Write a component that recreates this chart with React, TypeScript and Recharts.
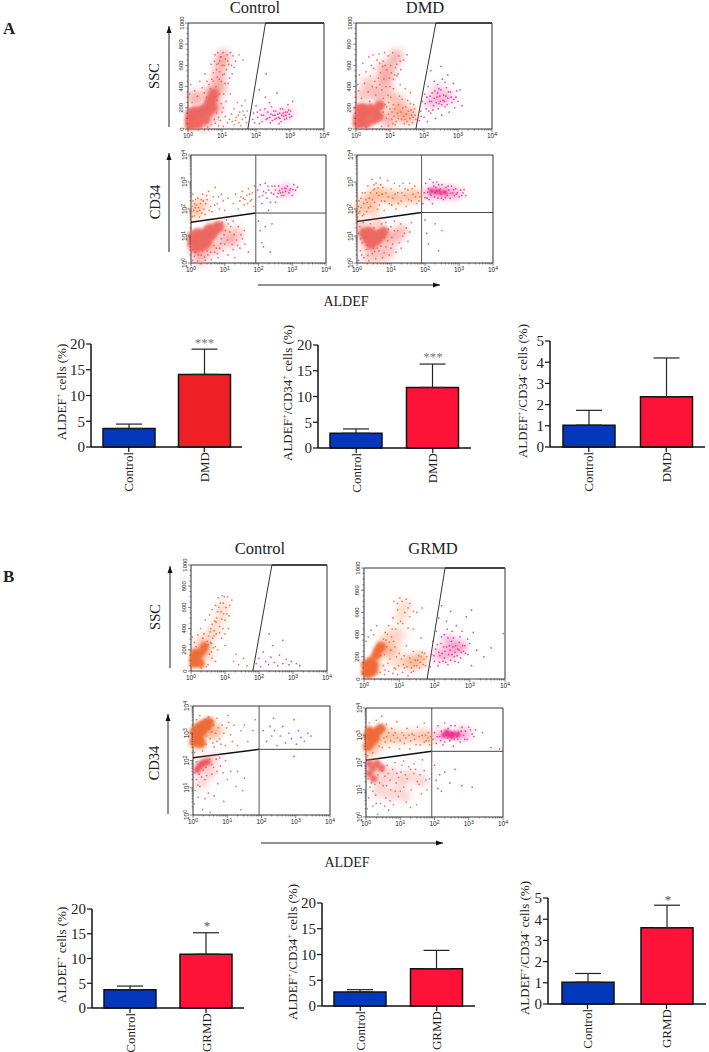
import React from "react";
import { ScatterChart, Scatter, XAxis, YAxis, ReferenceLine, BarChart, Bar, ErrorBar, Cell } from "recharts";

type P = [number, number];
const SERIF = "'Liberation Serif', serif";
const SANS = "'Liberation Sans', sans-serif";

/* ---------- Bar values ---------- */
const barCatsDmd = ["Control", "DMD"];
const barCatsGrmd = ["Control", "GRMD"];
const a1Values = [3.6, 14.1];
const a1Errors = [0.85, 4.9];
const a2Values = [2.85, 11.75];
const a2Errors = [0.85, 4.55];
const a3Values = [1.03, 2.37];
const a3Errors = [0.7, 1.83];
const b1Values = [3.7, 10.87];
const b1Errors = [0.73, 4.33];
const b2Values = [2.72, 7.25];
const b2Errors = [0.45, 3.55];
const b3Values = [1.03, 3.6];
const b3Errors = [0.41, 1.06];

/* ---------- Flow cytometry dots: x in log decades, y in SSC units or log decades ---------- */
const aSscCtrlHaze: P[] = [[.8,350],[.85,430],[.9,500],[.95,580],[1.0,650],[.72,310],[.6,340],[.98,390],[.45,35],[.72,110],[.88,210],[1.05,690],[.3,280],[.15,300]];
const aSscCtrlCore: P[] = [[.06,40],[.06,95],[.15,60],[.2,115],[.3,50],[.33,125],[.42,170],[.5,90],[.5,185],[.6,160],[.62,240],[.7,275],[.73,200],[.22,165],[.08,150],[.76,330]];
const aSscCtrlRed: P[] = [[.04,330],[.08,420],[.12,250],[.2,360],[.28,310],[.35,450],[.42,390],[.5,520],[.55,300],[.62,420],[.68,610],[.7,470],[.75,530],[.78,640],[.8,700],[.84,560],[.88,720],[.92,470],[.95,680],[1.0,600],[1.03,720],[1.07,520],[1.1,660],[1.15,700],[1.18,430],[1.2,610],[1.25,720],[1.32,690],[1.4,640],[1.5,700],[1.62,650],[1.05,330],[1.12,260],[1.0,160],[.95,80],[1.1,120],[1.16,60],[1.25,330],[1.3,520],[.9,30],[.8,55],[1.04,25],[.66,380],[.74,450],[.82,400],[.86,490],[.9,620],[.94,540],[.98,450],[1.02,510],[1.06,600],[1.09,430],[1.13,560],[1.17,640],[.78,300],[.86,270],[.92,330],[.97,240],[1.03,200],[.84,150],[.9,110],[.78,90],[.68,40],[.58,20],[.98,680],[.93,640],[.85,610],[1.22,480],[1.28,600],[1.36,580],[.56,450],[.48,340]];
const aSscCtrlOrange: P[] = [[1.22,90],[1.3,70],[1.35,190],[1.42,110],[1.45,250],[1.5,60],[1.52,160],[1.58,220],[1.6,90],[1.65,130],[1.68,270],[1.72,60],[1.74,170],[1.4,80],[1.55,30],[1.28,140],[1.48,130],[1.62,170],[1.7,110],[1.36,40]];
const aSscCtrlPink: P[] = [[1.9,90],[1.93,150],[1.96,60],[2.0,220],[2.05,110],[2.1,50],[2.12,180],[2.18,70],[2.22,130],[2.28,300],[2.3,90],[2.35,160],[2.4,110],[2.42,60],[2.46,210],[2.5,130],[2.55,90],[2.58,170],[2.62,340],[2.66,110],[2.7,150],[2.74,70],[2.78,190],[2.82,120],[2.86,160],[2.9,100],[2.94,230],[2.98,140],[3.02,170],[3.05,120],[3.08,260],[2.1,370],[2.3,520],[2.6,100],[2.4,250],[2.76,130],[2.88,130],[2.7,100],[2.04,160],[2.16,130],[2.26,190],[2.34,100],[2.44,140],[2.52,170],[2.64,140],[2.72,190],[2.84,90],[2.92,160],[3.0,110],[2.56,130],[2.8,150],[2.96,180],[2.48,80],[2.68,50]];
const aSscCtrlPinkHaze: P[] = [[2.35,130],[2.75,130],[2.95,150]];

const aSscDmdHaze: P[] = [[.2,320],[.5,350],[.7,300],[.85,380],[.9,470],[1.0,550],[1.1,640],[1.2,700],[.35,430],[.75,480],[.8,580],[1.05,300],[1.2,160],[1.4,120],[1.6,110],[1.0,60],[1.3,250],[.85,110]];
const aSscDmdCore: P[] = [[.06,50],[.06,110],[.16,70],[.2,130],[.3,55],[.33,140],[.42,190],[.5,90],[.55,170],[.22,190],[.66,120],[.1,190],[.7,220]];
const aSscDmdRed: P[] = [[.05,420],[.1,510],[.2,620],[.3,540],[.38,680],[.45,600],[.5,700],[.55,450],[.62,650],[.68,710],[.72,530],[.8,640],[.84,720],[.9,560],[.95,690],[1.02,600],[1.08,720],[1.14,510],[1.2,610],[1.26,690],[1.32,560],[1.4,650],[1.5,700],[.4,260],[.6,390],[.7,420],[.8,290],[.9,210],[1.0,400],[1.1,380],[.75,25],[.95,30],[1.15,40],[.3,20],[.25,430],[.42,500],[.52,570],[.58,320],[.66,480],[.76,370],[.82,470],[.88,400],[.94,320],[.98,480],[1.04,530],[1.1,470],[1.16,580],[1.24,520],[1.3,640],[.86,600],[.78,590],[.7,620],[.48,400],[.36,350],[.16,290],[.08,360]];
const aSscDmdOrange: P[] = [[.9,100],[1.0,190],[1.05,90],[1.1,230],[1.18,70],[1.22,150],[1.28,310],[1.34,90],[1.38,200],[1.42,50],[1.48,140],[1.52,270],[1.58,100],[1.62,180],[1.66,60],[1.7,230],[1.74,130],[1.76,90],[1.3,420],[1.45,380],[1.6,340],[1.2,500],[1.02,300],[1.12,120],[1.44,90],[1.56,40],[1.68,160],[.8,160],[.85,230],[.95,140],[1.06,160],[1.14,190],[1.25,230],[1.32,160],[1.4,120],[1.46,210],[1.54,170],[1.6,240],[1.68,110],[1.72,190],[1.24,100],[1.08,50],[.96,250],[1.36,280],[1.5,70],[1.64,130]];
const aSscDmdPink: P[] = [[1.86,80],[1.9,170],[1.95,260],[2.0,110],[2.02,330],[2.06,190],[2.1,70],[2.12,400],[2.16,260],[2.2,150],[2.24,340],[2.28,220],[2.3,450],[2.34,100],[2.38,300],[2.42,190],[2.44,380],[2.48,260],[2.52,130],[2.54,470],[2.58,320],[2.62,210],[2.66,390],[2.7,290],[2.74,160],[2.78,350],[2.82,250],[2.86,430],[2.9,200],[2.94,300],[3.0,260],[3.06,370],[3.12,220],[2.2,550],[2.5,590],[2.7,510],[2.36,250],[2.46,310],[2.56,270],[2.64,310],[2.4,340],[2.52,230],[2.3,290],[1.92,120],[2.04,240],[2.08,300],[2.14,170],[2.18,310],[2.22,260],[2.26,180],[2.32,360],[2.44,240],[2.5,370],[2.6,260],[2.68,230],[2.72,350],[2.8,300],[2.88,280],[2.96,360],[2.4,420],[2.62,440]];
const aSscDmdOrangeHaze: P[] = [[1.1,180],[1.35,160],[1.6,170]];
const aSscDmdPinkHaze: P[] = [[2.2,250],[2.45,280],[2.7,300],[2.4,360]];

const aCdCtrlHaze: P[] = [[.1,.55],[.3,.35],[.55,.5],[.8,.65],[1.05,.95],[1.2,.8],[1.35,1.1],[.25,.15],[.9,1.3],[.6,1.25]];
const aCdCtrlCore: P[] = [[.05,.75],[.05,1.0],[.15,.85],[.2,1.1],[.3,.65],[.32,.95],[.42,1.1],[.5,.85],[.55,1.25],[.62,1.05],[.72,1.25],[.82,1.35],[.15,.55],[.42,.7]];
const aCdCtrlRed: P[] = [[.05,.1],[.1,.25],[.2,.08],[.3,.3],[.42,.1],[.5,.3],[.6,.12],[.7,.4],[.8,.2],[.95,.45],[1.1,.3],[1.25,.5],[1.3,.2],[1.45,.55],[1.52,.9],[1.58,1.2],[1.4,1.35],[1.6,.7],[1.7,.4],[1.1,1.45],[1.25,1.55],[1.0,.7],[.85,.55],[1.15,1.15],[1.48,1.05],[1.35,.85],[.68,.65],[.9,.9],[1.02,1.2],[.35,.45],[.12,.4],[.22,.3],[.04,.5],[.48,.45],[.58,.4],[.75,.55],[.88,.72],[.98,1.05],[1.08,.85],[1.18,1.35],[1.28,1.05],[1.38,.65],[1.05,1.6],[.92,1.5],[1.22,.68],[.4,.22],[.78,.35]];
const aCdCtrlOrange: P[] = [[.02,1.9],[.03,2.1],[.06,2.3],[.1,1.75],[.12,2.05],[.18,1.9],[.2,2.4],[.25,1.7],[.28,2.2],[.34,2.55],[.38,2.0],[.42,1.8],[.48,2.35],[.52,2.65],[.58,2.1],[.62,1.9],[.66,2.45],[.72,2.8],[.78,2.2],[.84,2.0],[.9,2.55],[.95,2.3],[1.0,1.95],[1.1,2.4],[1.25,2.2],[1.32,2.55],[1.4,2.0],[1.45,2.3],[1.52,2.65],[1.58,2.15],[1.65,2.5],[1.7,2.75],[1.76,2.3],[1.82,2.6],[1.86,2.1],[1.88,2.85],[.08,1.95],[.15,2.15],[.05,2.55],[.3,2.35],[1.6,2.35],[1.74,2.55],[.04,1.72],[.14,2.35],[.22,2.05],[.32,1.85],[.44,2.2],[.54,1.95],[.7,2.15],[.82,2.45],[.46,2.5],[.26,1.95],[.1,2.2],[.36,2.3],[1.48,2.45],[1.68,2.2],[1.8,2.35],[1.55,2.4]];
const aCdCtrlPink: P[] = [[1.98,2.7],[2.02,2.45],[2.05,2.9],[2.1,2.2],[2.15,2.65],[2.2,2.95],[2.25,2.4],[2.3,2.7],[2.35,2.25],[2.4,2.85],[2.45,2.55],[2.5,2.7],[2.55,2.45],[2.6,2.85],[2.65,2.6],[2.7,2.75],[2.75,2.5],[2.8,2.65],[2.85,2.85],[2.9,2.6],[2.95,2.75],[3.0,2.5],[3.05,2.9],[3.1,2.7],[3.15,2.8],[2.62,2.68],[2.72,2.62],[2.82,2.75],[2.5,2.25],[2.3,1.95],[2.0,1.55],[2.05,1.2],[2.1,.75],[2.15,.6],[2.2,1.35],[2.4,1.45],[2.35,.4],[2.12,2.5],[2.22,2.6],[2.38,2.6],[2.48,2.85],[2.58,2.58],[2.68,2.5],[2.78,2.78],[2.92,2.7],[3.02,2.72],[2.28,2.85]];
const aCdCtrlOrangeHaze: P[] = [[.15,2.05],[.35,2.2],[.15,1.85]];
const aCdCtrlPinkHaze: P[] = [[2.7,2.68],[2.9,2.7]];

const aCdDmdHaze: P[] = [[.25,.75],[.5,.6],[.75,.8],[.95,1.0],[1.15,.95],[1.3,1.2],[.35,.25],[.7,.25],[.95,.45],[.15,1.35],[.6,1.4]];
const aCdDmdCore: P[] = [[.3,.9],[.42,.7],[.5,1.05],[.58,.85],[.68,1.0],[.78,1.15],[.2,1.1],[.36,1.15]];
const aCdDmdRed: P[] = [[.05,.1],[.1,.45],[.15,.75],[.2,.2],[.28,.5],[.35,.08],[.45,.35],[.55,.15],[.65,.45],[.75,.2],[.85,.6],[.95,.3],[1.05,.7],[1.15,.4],[1.25,.75],[1.35,1.0],[1.45,1.3],[1.5,.8],[1.6,1.5],[1.1,1.55],[.85,1.5],[1.0,1.35],[.05,1.1],[.08,1.35],[.4,1.45],[.6,.55],[.8,.95],[1.02,.95],[1.2,1.2],[.25,.95],[.62,1.2],[.48,.55],[1.55,1.15],[1.28,1.45],[.14,.3],[.32,.28],[.52,.42],[.7,.62],[.9,.82],[1.1,1.2],[1.4,1.1],[.18,1.5],[.92,1.25],[.72,1.45],[.5,1.3],[.3,.65],[.1,.9],[1.3,.55],[.8,.38],[1.0,.55]];
const aCdDmdOrange: P[] = [[.02,1.7],[.04,2.1],[.08,1.9],[.12,2.4],[.16,1.75],[.2,2.2],[.24,2.6],[.28,1.9],[.32,2.85],[.36,2.4],[.4,2.1],[.44,3.1],[.48,2.7],[.52,2.25],[.56,2.95],[.6,2.0],[.64,2.5],[.68,3.15],[.72,2.3],[.76,2.8],[.8,1.95],[.85,2.6],[.9,3.05],[.95,2.2],[1.0,2.75],[1.05,2.4],[1.1,2.95],[1.15,2.0],[1.2,2.6],[1.25,2.85],[1.3,2.3],[1.35,2.95],[1.4,2.5],[1.45,2.1],[1.5,2.7],[1.55,2.95],[1.6,2.3],[1.65,2.55],[1.7,2.85],[1.75,2.2],[1.8,2.6],[1.85,2.45],[.12,2.05],[.2,1.8],[.05,1.85],[.4,2.6],[.52,2.75],[.3,2.25],[.06,2.3],[.16,2.6],[.26,2.35],[.34,2.05],[.46,2.35],[.58,2.6],[.66,2.15],[.74,2.55],[.82,2.3],[.92,2.45],[1.02,2.15],[1.12,2.55],[1.22,2.2],[1.32,2.6],[1.42,2.75],[1.52,2.35],[1.62,2.75],[1.72,2.45],[1.82,2.3],[.5,2.9],[.7,2.9],[.62,2.78]];
const aCdDmdPink: P[] = [[1.94,2.2],[1.98,2.6],[2.02,2.95],[2.06,2.4],[2.1,2.75],[2.14,3.1],[2.18,2.5],[2.22,2.2],[2.26,2.85],[2.3,2.6],[2.34,3.0],[2.38,2.4],[2.42,2.7],[2.46,2.55],[2.5,2.9],[2.54,2.35],[2.58,2.65],[2.62,2.8],[2.66,2.5],[2.7,2.7],[2.74,2.4],[2.78,2.85],[2.82,2.6],[2.86,2.5],[2.9,2.75],[2.95,2.6],[3.0,2.45],[3.05,2.7],[3.12,2.6],[3.2,2.5],[2.0,1.6],[2.05,1.1],[2.1,.7],[2.3,1.45],[2.4,.45],[2.5,1.2],[2.2,2.65],[2.35,2.68],[2.45,2.75],[2.28,2.45],[2.15,2.55],[2.55,2.62],[2.0,2.42],[2.08,2.62],[2.12,2.35],[2.24,2.98],[2.32,2.8],[2.4,2.9],[2.48,2.4],[2.6,2.42],[2.68,2.85],[2.76,2.58],[2.84,2.72],[2.92,2.55],[3.08,2.5],[3.15,2.72]];
const aCdDmdOrangeHaze: P[] = [[.1,2.0],[.3,2.3],[.5,2.5],[.7,2.55],[.95,2.45],[1.2,2.4],[1.5,2.45],[1.75,2.5],[.45,2.0]];
const aCdDmdPinkHaze: P[] = [[2.15,2.6],[2.4,2.62],[2.65,2.62],[2.9,2.58]];
const aCdDmdPinkCore: P[] = [[2.18,2.68],[2.32,2.65],[2.45,2.62],[2.6,2.6]];

const bSscCtrlHaze: P[] = [[.55,320],[.7,400],[.85,500],[.95,600],[.3,270],[.2,90],[.5,150]];
const bSscCtrlCore: P[] = [[.08,70],[.08,125],[.16,90],[.22,145],[.28,70],[.32,185],[.12,170],[.4,230]];
const bSscCtrlRed: P[] = [[.04,320],[.1,270],[.2,340],[.28,400],[.35,310],[.42,480],[.48,280],[.55,530],[.58,400],[.62,580],[.68,330],[.5,60],[.62,120],[.72,90],[.6,260],[.38,350],[.15,230],[.74,460],[.3,30],[.45,40]];
const bSscCtrlOrange: P[] = [[.45,210],[.52,330],[.58,270],[.62,440],[.68,380],[.72,620],[.76,500],[.8,690],[.84,420],[.88,560],[.92,710],[.95,640],[1.0,480],[1.03,600],[1.08,700],[1.12,520],[.78,200],[.9,310],[1.0,240],[1.1,400],[1.2,670],[.72,230],[.6,180],[.42,250],[.82,600],[.96,540],[1.25,90],[1.4,60],[1.55,120],[1.65,50],[1.32,160],[.5,250],[.56,370],[.64,310],[.7,470],[.74,350],[.78,560],[.84,360],[.86,640],[.9,490],[.94,400],[.98,700],[1.05,540],[1.14,620],[1.0,350],[.66,220],[.54,160]];
const bSscCtrlPink: P[] = [[1.92,70],[2.0,120],[2.05,40],[2.12,180],[2.2,90],[2.28,60],[2.35,130],[2.4,240],[2.45,80],[2.55,50],[2.6,150],[2.7,70],[2.8,110],[2.88,60],[2.95,90],[3.1,70],[3.2,50],[2.3,350],[2.7,290]];
const bSscCtrlOrangeHaze: P[] = [[.25,170],[.4,230]];

const bSscGrmdHaze: P[] = [[.4,120],[.55,330],[.75,390],[.9,290],[1.05,560],[1.15,660],[.95,150],[1.25,140],[1.45,130],[1.6,170],[.7,240],[1.0,400]];
const bSscGrmdCore: P[] = [[.05,60],[.05,130],[.14,100],[.2,160],[.14,50],[.28,125],[.34,210],[.4,255],[.48,290],[.26,70]];
const bSscGrmdRed: P[] = [[.06,340],[.12,380],[.2,440],[.28,400],[.36,480],[.46,60],[.58,40],[.7,70],[.82,50],[.95,40],[1.1,60],[1.25,30],[1.4,70],[1.5,600],[1.3,680],[1.2,720],[1.02,730],[.85,700],[1.65,640],[1.4,450],[1.62,370],[.6,80],[.9,90],[1.15,100],[1.34,60],[1.1,500],[1.25,640],[.95,680],[1.4,610]];
const bSscGrmdOrange: P[] = [[.48,210],[.55,120],[.6,420],[.65,290],[.7,480],[.74,180],[.78,380],[.82,550],[.86,100],[.9,450],[.95,620],[1.0,230],[1.04,520],[1.08,700],[1.12,130],[1.16,600],[1.2,300],[1.25,460],[1.3,190],[1.35,100],[1.4,250],[1.45,170],[1.5,120],[1.55,210],[1.6,150],[1.65,240],[1.7,180],[1.74,120],[1.78,200],[.88,290],[.72,330],[.55,360],[1.3,560],[1.72,230],[1.62,200],[.58,220],[.68,140],[.76,260],[.84,340],[.92,200],[.98,120],[1.06,180],[1.14,210],[1.22,110],[1.32,150],[1.42,120],[1.52,170],[1.58,100],[1.68,130],[.62,350],[.8,450],[.66,400],[.96,500]];
const bSscGrmdPink: P[] = [[1.88,110],[1.92,220],[1.95,340],[2.0,160],[2.03,270],[2.05,430],[2.1,120],[2.12,550],[2.15,210],[2.18,320],[2.2,660],[2.24,160],[2.28,400],[2.3,250],[2.34,520],[2.38,130],[2.42,300],[2.46,610],[2.5,220],[2.54,370],[2.58,160],[2.62,480],[2.66,270],[2.7,330],[2.74,190],[2.78,430],[2.82,250],[2.86,300],[2.9,560],[2.95,220],[3.0,320],[3.05,620],[3.1,420],[3.2,260],[3.4,200],[3.6,280],[3.95,410],[3.05,120],[2.28,190],[2.4,220],[2.52,290],[2.34,290],[2.6,300],[2.46,170],[2.7,260],[2.22,230],[2.58,240],[1.98,210],[2.08,310],[2.14,150],[2.2,380],[2.26,290],[2.32,150],[2.38,370],[2.44,260],[2.48,340],[2.56,200],[2.64,210],[2.72,380],[2.8,300],[2.88,230],[2.94,360],[2.12,240],[2.36,450],[2.5,430],[2.68,150],[2.76,240]];
const bSscGrmdOrangeHaze: P[] = [[.55,280],[.7,250],[1.3,170],[1.6,190]];
const bSscGrmdPinkHaze: P[] = [[2.15,220],[2.4,230],[2.6,280],[2.75,290],[2.4,340]];

const bCdCtrlHaze: P[] = [[.2,1.75],[.35,1.9],[.5,1.55],[.25,1.2],[.6,2.05]];
const bCdCtrlCore: P[] = [[.06,2.7],[.06,3.05],[.14,2.85],[.16,3.2],[.24,3.05],[.3,3.3],[.38,3.25],[.46,3.4],[.22,2.65]];
const bCdCtrlRedCore: P[] = [[.12,1.65],[.2,1.8],[.3,1.9],[.42,1.95]];
const bCdCtrlRed: P[] = [[.04,.4],[.06,.9],[.1,1.3],[.15,.65],[.2,1.05],[.28,.2],[.35,1.3],[.45,.8],[.55,1.5],[.62,.7],[.72,1.15],[.8,1.8],[.9,.5],[1.0,1.3],[1.1,1.6],[1.25,1.05],[1.3,1.6],[1.45,.9],[1.5,1.35],[.78,2.1],[.95,2.0],[1.4,.2],[.5,.1],[.68,2.05],[.35,.6],[.1,1.95],[.18,1.5],[.4,1.45],[.6,1.75],[.05,1.55],[.12,1.75],[.22,1.9],[.3,1.65],[.38,1.75],[.48,2.05],[.55,1.85],[.25,1.4],[.14,1.1],[.7,1.6],[.88,1.55]];
const bCdCtrlOrange: P[] = [[.05,2.3],[.1,3.5],[.2,3.65],[.28,2.35],[.38,2.6],[.45,3.6],[.55,3.05],[.62,2.5],[.7,3.55],[.78,2.8],[.85,3.3],[.95,2.55],[1.02,3.65],[1.1,2.95],[1.2,3.3],[1.3,2.55],[1.4,3.1],[1.5,3.3],[1.6,2.7],[1.75,3.1],[1.82,3.5],[.6,3.3],[.9,3.0],[1.05,3.4],[.4,2.9],[.5,2.8],[.58,2.65],[.66,3.0],[.74,3.2],[.82,2.6],[.48,3.15],[.56,3.45],[.35,3.5],[.28,2.6],[.7,2.7],[.98,3.2],[1.15,2.7]];
const bCdCtrlPink: P[] = [[2.05,3.1],[2.15,2.7],[2.25,3.25],[2.3,2.9],[2.38,3.1],[2.45,2.55],[2.55,2.9],[2.62,3.25],[2.7,2.65],[2.8,3.0],[2.88,2.8],[2.95,3.5],[3.02,2.6],[3.08,3.1],[3.15,2.85],[3.25,2.7],[3.35,3.0],[2.95,2.15],[2.35,3.55],[3.45,2.9]];
const bCdCtrlOrangeHaze: P[] = [[.15,2.95],[.3,3.1],[.45,3.2],[.1,2.6],[.55,3.0],[.7,3.1]];

const bCdGrmdHaze: P[] = [[.3,1.7],[.5,1.35],[.75,1.6],[1.0,1.3],[1.25,1.5],[.4,.95],[.75,.85],[1.1,.8],[1.6,1.35]];
const bCdGrmdCore: P[] = [[.06,2.6],[.06,2.95],[.16,2.75],[.18,3.05],[.28,2.9],[.34,3.15],[.44,3.25],[.1,3.15]];
const bCdGrmdRedCore: P[] = [[.1,1.6],[.1,1.95],[.2,1.8],[.32,1.95],[.22,1.4],[.45,1.8]];
const bCdGrmdRed: P[] = [[.04,.3],[.08,.7],[.12,1.1],[.2,.4],[.28,.8],[.34,.1],[.42,.5],[.5,1.15],[.58,.7],[.66,.25],[.72,1.0],[.8,.45],[.88,1.25],[.95,.75],[1.02,1.65],[1.1,1.1],[1.18,.55],[1.25,1.85],[1.32,1.0],[1.4,1.6],[1.48,.45],[1.55,1.2],[1.62,.85],[1.7,1.7],[1.78,1.0],[1.85,1.4],[.62,1.9],[.85,2.0],[1.1,2.05],[1.4,1.95],[1.65,2.1],[.35,1.55],[.55,1.5],[.7,1.35],[.95,1.45],[1.2,1.4],[1.5,1.3],[.2,.95],[.06,1.4],[.16,1.25],[.26,1.2],[.4,1.25],[.48,1.7],[.6,1.15],[.78,1.75],[.9,1.6],[1.05,1.9],[1.15,1.55],[1.3,1.75],[1.45,1.75],[1.58,1.55],[1.75,1.35],[.65,1.6],[.85,.95],[1.0,.95],[1.3,.35],[.55,.4],[.3,.5],[.7,.6]];
const bCdGrmdOrange: P[] = [[.05,2.25],[.1,3.45],[.2,2.35],[.3,3.55],[.38,2.6],[.46,3.7],[.52,2.9],[.6,3.4],[.68,2.55],[.75,3.25],[.82,2.75],[.9,3.5],[.98,2.5],[1.05,3.1],[1.12,2.7],[1.2,3.25],[1.28,2.5],[1.35,3.05],[1.42,2.85],[1.5,3.3],[1.58,2.65],[1.64,3.0],[1.7,3.45],[1.76,2.8],[1.82,3.1],[1.86,2.65],[1.88,2.95],[.6,2.95],[.85,3.1],[1.3,2.8],[1.7,2.75],[1.8,2.9],[.48,2.55],[.56,2.75],[.66,3.1],[.72,2.8],[.8,3.0],[.92,2.9],[1.0,2.8],[1.1,3.0],[1.16,2.9],[1.25,3.0],[1.4,3.0],[1.46,2.65],[1.55,2.95],[1.74,3.0],[1.84,2.8]];
const bCdGrmdPink: P[] = [[1.96,2.85],[2.0,3.1],[2.05,2.7],[2.1,3.35],[2.15,2.95],[2.2,3.15],[2.25,2.65],[2.3,3.45],[2.35,3.0],[2.4,3.25],[2.45,2.8],[2.5,3.1],[2.55,2.6],[2.6,3.35],[2.65,2.95],[2.7,3.1],[2.75,2.75],[2.8,3.3],[2.85,3.0],[2.9,3.15],[2.95,2.85],[3.0,3.3],[3.1,3.05],[3.2,3.2],[3.4,3.1],[3.65,2.55],[3.9,2.5],[2.0,1.9],[2.05,1.35],[2.1,1.05],[2.2,.95],[2.3,1.65],[2.45,1.25],[2.6,1.75],[2.8,1.15],[3.1,1.1],[2.15,1.55],[2.08,2.95],[2.18,2.8],[2.3,2.75],[2.38,2.9],[2.48,3.35],[2.58,2.85],[2.68,2.85],[2.78,3.15],[2.88,2.85],[3.05,3.2],[3.15,2.95]];
const bCdGrmdOrangeHaze: P[] = [[.1,2.4],[.3,2.6],[.55,2.9],[.75,3.0],[1.0,2.9],[1.3,2.95],[1.6,2.95],[1.8,2.95]];
const bCdGrmdPinkHaze: P[] = [[2.15,3.0],[2.75,3.05],[2.9,3.05]];
const bCdGrmdPinkCore: P[] = [[2.28,3.0],[2.42,3.02],[2.55,3.05],[2.68,3.02],[2.36,3.12],[2.5,2.95]];

/* ---------- Drawing helpers ---------- */
const minorSteps = [0, .3, .48, .6, .7, .78, .85, .9, .95];
const logTicks = [0, 1, 2, 3].flatMap((d) => minorSteps.map((m) => d + m)).concat([4]);
const sscTicks = Array.from({ length: 21 }, (_, i) => i * 50);
const HAZE = "#F08078", CORE = "#EC675F", RED = "#EE5060", ORANGE = "#EF6128", PINK = "#EC2488";

const pts = (a: P[]) => a.map(([x, y]) => ({ x, y }));
const dot = (r: number, fill: string, opacity: number, blur: number) => (p: any) =>
  <circle cx={p.cx} cy={p.cy} r={r} fill={fill} opacity={opacity} style={blur ? { filter: `blur(${blur}px)` } : undefined} />;

const LogLabel = ({ x, y, n, rotate }: any) => (
  <text x={x} y={y} fontSize={6.5} fontFamily={SANS} fill="#222" textAnchor="middle"
    transform={rotate ? `rotate(-90 ${x} ${y})` : undefined}>
    10<tspan fontSize={5} dy={-2}>{n}</tspan>
  </text>
);

const XTick = ({ x, y, payload }: any) => {
  const major = Number.isInteger(payload.value);
  return (
    <g>
      <line x1={x} x2={x} y1={y} y2={y + (major ? 3 : 1.5)} stroke="#333" strokeWidth={0.6} />
      {major && <LogLabel x={x} y={y + 9} n={payload.value} />}
    </g>
  );
};
const YTick = ({ x, y, payload, ssc }: any) => {
  const major = ssc ? payload.value % 200 === 0 : Number.isInteger(payload.value);
  return (
    <g>
      <line x1={x - (major ? 3 : 1.5)} x2={x} y1={y} y2={y} stroke="#333" strokeWidth={0.6} />
      {major && (ssc
        ? <text x={x - 4.5} y={y} fontSize={6} fontFamily={SANS} fill="#222" textAnchor="middle" transform={`rotate(-90 ${x - 4.5} ${y})`}>{payload.value}</text>
        : <LogLabel x={x - 4.5} y={y} n={payload.value} rotate />)}
    </g>
  );
};

type Layer = { data: P[]; r: number; fill: string; o: number; blur: number };
const Flow = ({ l, r, t, b, ssc, gate, layers }: any) => {
  const ml = 18, mb = 16, mr = 10, mt = 12;
  const yTop = ssc ? 1000 : 4;
  return (
    <div style={{ position: "absolute", left: l - ml, top: t - mt }}>
      <ScatterChart width={r - l + ml + mr} height={b - t + mt + mb} margin={{ left: 0, top: mt, right: mr, bottom: 0 }}>
        <XAxis type="number" dataKey="x" domain={[0, 4]} ticks={logTicks} interval={0} height={mb} tick={<XTick />} tickLine={false} axisLine={false} tickSize={0} tickMargin={0} />
        <YAxis type="number" dataKey="y" domain={[0, yTop]} ticks={ssc ? sscTicks : logTicks} interval={0} width={ml} tick={<YTick ssc={ssc} />} tickLine={false} axisLine={false} tickSize={0} tickMargin={0} />
        {layers.map((ly: Layer, i: number) => (
          <Scatter key={i} data={pts(ly.data)} shape={dot(ly.r, ly.fill, ly.o, ly.blur)} isAnimationActive={false} />
        ))}
        <ReferenceLine x={0} stroke="#333" strokeWidth={1} ifOverflow="visible" />
        <ReferenceLine x={4} stroke="#333" strokeWidth={1} ifOverflow="visible" />
        <ReferenceLine y={0} stroke="#333" strokeWidth={1} ifOverflow="visible" />
        <ReferenceLine y={yTop} stroke="#333" strokeWidth={1} ifOverflow="visible" />
        {ssc ? (
          <>
            <ReferenceLine segment={[{ x: gate[0], y: 0 }, { x: gate[1], y: 1000 }]} stroke="#333" strokeWidth={1} ifOverflow="visible" />
            <ReferenceLine segment={[{ x: gate[1], y: 1000 }, { x: 4, y: 1000 }]} stroke="#444" strokeWidth={2} ifOverflow="visible" />
          </>
        ) : (
          <>
            <ReferenceLine segment={[{ x: 0, y: gate[0] }, { x: gate[2], y: gate[1] }]} stroke="#111" strokeWidth={1.5} ifOverflow="visible" />
            <ReferenceLine segment={[{ x: gate[2], y: gate[1] }, { x: 4, y: gate[1] }]} stroke="#444" strokeWidth={1} ifOverflow="visible" />
            <ReferenceLine x={gate[2]} stroke="#555" strokeWidth={1} ifOverflow="visible" />
          </>
        )}
      </ScatterChart>
    </div>
  );
};

const haze = (data: P[], fill: string, o = 0.42): Layer => ({ data, r: 7, fill, o, blur: 3 });
const blob = (data: P[], fill: string, r = 5.5): Layer => ({ data, r, fill, o: 0.95, blur: 1.8 });
const dots = (data: P[], fill: string): Layer => ({ data, r: 0.85, fill, o: 0.85, blur: 0 });
const PALE_OR = "#F59A70", PALE_PK = "#F080B8", ORC = "#EE6A35";

const RotTick = ({ x, y, payload }: any) => (
  <text x={x} y={y - 2} transform={`rotate(-90 ${x} ${y - 2})`} dy={4.5} textAnchor="end" fontSize={13} fontFamily={SERIF} fill="#222">{payload.value}</text>
);

const BarPanel = ({ x0, x1, y0, y1, cats, values, errors, max, ticks, red }: any) => {
  const ml = 30, mt = 8, mb = 55;
  const data = cats.map((c: string, i: number) => ({ c, v: values[i], e: [0, errors[i]] }));
  return (
    <div style={{ position: "absolute", left: x0 - ml, top: y1 - mt }}>
      <BarChart width={x1 - x0 + ml} height={y0 - y1 + mt + mb} data={data} margin={{ left: 0, top: mt, right: 0, bottom: 0 }} barSize={52}>
        <XAxis dataKey="c" height={mb} interval={0} tick={<RotTick />} tickSize={5} tickLine={{ stroke: "#111", strokeWidth: 1.2 }} axisLine={{ stroke: "#111", strokeWidth: 1.5 }} />
        <YAxis type="number" domain={[0, max]} ticks={ticks} interval={0} width={ml} tickSize={5} tickMargin={1}
          tick={{ fontSize: 15, fontFamily: SERIF, fill: "#222" }} tickLine={{ stroke: "#111", strokeWidth: 1.2 }} axisLine={{ stroke: "#111", strokeWidth: 1.5 }} />
        <Bar dataKey="v" stroke="#111" strokeWidth={1.5} isAnimationActive={false}>
          <Cell fill="#0438BC" />
          <Cell fill={red} />
          <ErrorBar dataKey="e" direction="y" width={13} stroke="#222" strokeWidth={1.2} isAnimationActive={false} />
        </Bar>
      </BarChart>
    </div>
  );
};

const Arrow = ({ x1, y1, x2, y2 }: any) => {
  const vertical = x1 === x2;
  const head = vertical ? `${x2 - 2.5},${y2 + 7} ${x2},${y2} ${x2 + 2.5},${y2 + 7}` : `${x2 - 7},${y2 - 2.5} ${x2},${y2} ${x2 - 7},${y2 + 2.5}`;
  return (
    <g>
      <line x1={x1} y1={y1} x2={x2} y2={y2} stroke="#222" strokeWidth={1} />
      <polygon points={head} fill="#111" />
    </g>
  );
};

const T = ({ x, y, size = 16.5, rot, children, weight, fill = "#222" }: any) => (
  <text x={x} y={y} fontSize={size} fontFamily={SERIF} fontWeight={weight} fill={fill} textAnchor={weight ? "start" : "middle"}
    transform={rot ? `rotate(-90 ${x} ${y})` : undefined}>{children}</text>
);
const Sup = ({ s }: any) => <tspan fontSize={8.5} dy={-5}>{s}</tspan>;

const YLabel = ({ x, y, kind }: any) => (
  <T x={x} y={y} size={13} rot>
    ALDEF<Sup s="+" />
    {kind === 1 && <tspan dy={5}> cells (%)</tspan>}
    {kind === 2 && <><tspan dy={5}>/CD34</tspan><Sup s="+" /><tspan dy={5}> cells (%)</tspan></>}
    {kind === 3 && <><tspan dy={5}>/CD34</tspan><Sup s="-" /><tspan dy={5}> cells (%)</tspan></>}
  </T>
);

const RED1 = "#EE2026", RED2 = "#FF1238";
const t20 = [0, 5, 10, 15, 20];
const t5 = [0, 1, 2, 3, 4, 5];

export default function App() {
  return (
    <div style={{ position: "absolute", left: 0, top: 0, width: 709, height: 1052, background: "#fff", overflow: "hidden" }}>
      <Flow l={188} r={324} t={23} b={129} ssc gate={[1.76, 2.28]} layers={[haze(aSscCtrlHaze, HAZE), haze(aSscCtrlPinkHaze, PALE_PK, .25), blob(aSscCtrlCore, CORE), dots(aSscCtrlRed, RED), dots(aSscCtrlOrange, ORANGE), dots(aSscCtrlPink, PINK)]} />
      <Flow l={356} r={492} t={23} b={129} ssc gate={[1.76, 2.35]} layers={[haze(aSscDmdHaze, HAZE), haze(aSscDmdOrangeHaze, PALE_OR, .3), haze(aSscDmdPinkHaze, PALE_PK, .4), blob(aSscDmdCore, CORE), dots(aSscDmdRed, RED), dots(aSscDmdOrange, ORANGE), dots(aSscDmdPink, PINK)]} />
      <Flow l={191} r={326} t={155} b={263} gate={[1.51, 1.85, 1.92]} layers={[haze(aCdCtrlHaze, HAZE), haze(aCdCtrlOrangeHaze, PALE_OR, .35), haze(aCdCtrlPinkHaze, PALE_PK, .3), blob(aCdCtrlCore, CORE), dots(aCdCtrlRed, RED), dots(aCdCtrlOrange, ORANGE), dots(aCdCtrlPink, PINK)]} />
      <Flow l={357} r={493} t={155} b={263} gate={[1.54, 1.87, 1.9]} layers={[haze(aCdDmdHaze, HAZE), haze(aCdDmdOrangeHaze, PALE_OR, .5), haze(aCdDmdPinkHaze, PALE_PK, .5), blob(aCdDmdCore, CORE), blob(aCdDmdPinkCore, PINK, 2.5), dots(aCdDmdRed, RED), dots(aCdDmdOrange, ORANGE), dots(aCdDmdPink, PINK)]} />
      <Flow l={191} r={327} t={565} b={671} ssc gate={[1.82, 2.38]} layers={[haze(bSscCtrlHaze, PALE_OR, .3), haze(bSscCtrlOrangeHaze, PALE_OR, .5), blob(bSscCtrlCore, ORC, 4.5), dots(bSscCtrlRed, RED), dots(bSscCtrlOrange, ORANGE), dots(bSscCtrlPink, PINK)]} />
      <Flow l={364} r={505} t={568} b={679} ssc gate={[1.79, 2.3]} layers={[haze(bSscGrmdHaze, PALE_OR, .32), haze(bSscGrmdOrangeHaze, PALE_OR, .4), haze(bSscGrmdPinkHaze, PALE_PK, .5), blob(bSscGrmdCore, ORC, 5), dots(bSscGrmdRed, RED), dots(bSscGrmdOrange, ORANGE), dots(bSscGrmdPink, PINK)]} />
      <Flow l={193} r={330} t={706} b={815} gate={[2.1, 2.41, 1.93]} layers={[haze(bCdCtrlHaze, HAZE, .3), haze(bCdCtrlOrangeHaze, PALE_OR, .45), blob(bCdCtrlRedCore, RED, 3.5), blob(bCdCtrlCore, ORC, 5.5), dots(bCdCtrlRed, RED), dots(bCdCtrlOrange, ORANGE), dots(bCdCtrlPink, PINK)]} />
      <Flow l={366} r={503} t={708} b={817} gate={[2.08, 2.41, 1.92]} layers={[haze(bCdGrmdHaze, HAZE, .32), haze(bCdGrmdOrangeHaze, PALE_OR, .45), haze(bCdGrmdPinkHaze, PALE_PK, .4), blob(bCdGrmdRedCore, CORE, 4), blob(bCdGrmdCore, ORC, 5), blob(bCdGrmdPinkCore, PINK, 3), dots(bCdGrmdRed, RED), dots(bCdGrmdOrange, ORANGE), dots(bCdGrmdPink, PINK)]} />

      <BarPanel x0={91} x1={242} y0={447} y1={344} cats={barCatsDmd} values={a1Values} errors={a1Errors} max={20} ticks={t20} red={RED1} />
      <BarPanel x0={318} x1={471} y0={448} y1={345} cats={barCatsDmd} values={a2Values} errors={a2Errors} max={20} ticks={t20} red={RED2} />
      <BarPanel x0={550} x1={705} y0={447} y1={341} cats={barCatsDmd} values={a3Values} errors={a3Errors} max={5} ticks={t5} red={RED2} />
      <BarPanel x0={92} x1={244} y0={1008} y1={909} cats={barCatsGrmd} values={b1Values} errors={b1Errors} max={20} ticks={t20} red={RED2} />
      <BarPanel x0={322} x1={475} y0={1006} y1={903} cats={barCatsGrmd} values={b2Values} errors={b2Errors} max={20} ticks={t20} red={RED2} />
      <BarPanel x0={548} x1={706} y0={1004} y1={898} cats={barCatsGrmd} values={b3Values} errors={b3Errors} max={5} ticks={t5} red={RED2} />

      <svg width={709} height={1052} style={{ position: "absolute", left: 0, top: 0, pointerEvents: "none" }}>
        <T x={3} y={34} size={17} weight="bold">A</T>
        <T x={3} y={582} size={17} weight="bold">B</T>
        <T x={255} y={13}>Control</T>
        <T x={425} y={13}>DMD</T>
        <T x={260} y={554}>Control</T>
        <T x={433} y={554}>GRMD</T>

        <T x={159} y={76} size={14.5} rot>SSC</T>
        <T x={160} y={202} size={14.5} rot>CD34</T>
        <T x={160} y={617} size={14.5} rot>SSC</T>
        <T x={159} y={763} size={14.5} rot>CD34</T>
        <T x={346} y={306} size={14}>ALDEF</T>
        <T x={347} y={867} size={14}>ALDEF</T>

        <Arrow x1={169} y1={127} x2={169} y2={26} />
        <Arrow x1={169} y1={252} x2={169} y2={153} />
        <Arrow x1={170} y1={668} x2={170} y2={566} />
        <Arrow x1={168} y1={814} x2={168} y2={714} />
        <Arrow x1={258} y1={285} x2={440} y2={285} />
        <Arrow x1={261} y1={843} x2={443} y2={843} />

        <YLabel x={66} y={392} kind={1} />
        <YLabel x={292} y={393} kind={2} />
        <YLabel x={527} y={391} kind={3} />
        <YLabel x={66} y={955} kind={1} />
        <YLabel x={297} y={952} kind={2} />
        <YLabel x={529} y={948} kind={3} />

        <T x={204.5} y={347} size={13} fill="#777">***</T>
        <T x={433} y={361} size={13} fill="#777">***</T>
        <T x={207} y={930} size={13} fill="#555">*</T>
        <T x={668} y={904} size={13} fill="#555">*</T>
      </svg>
    </div>
  );
}
